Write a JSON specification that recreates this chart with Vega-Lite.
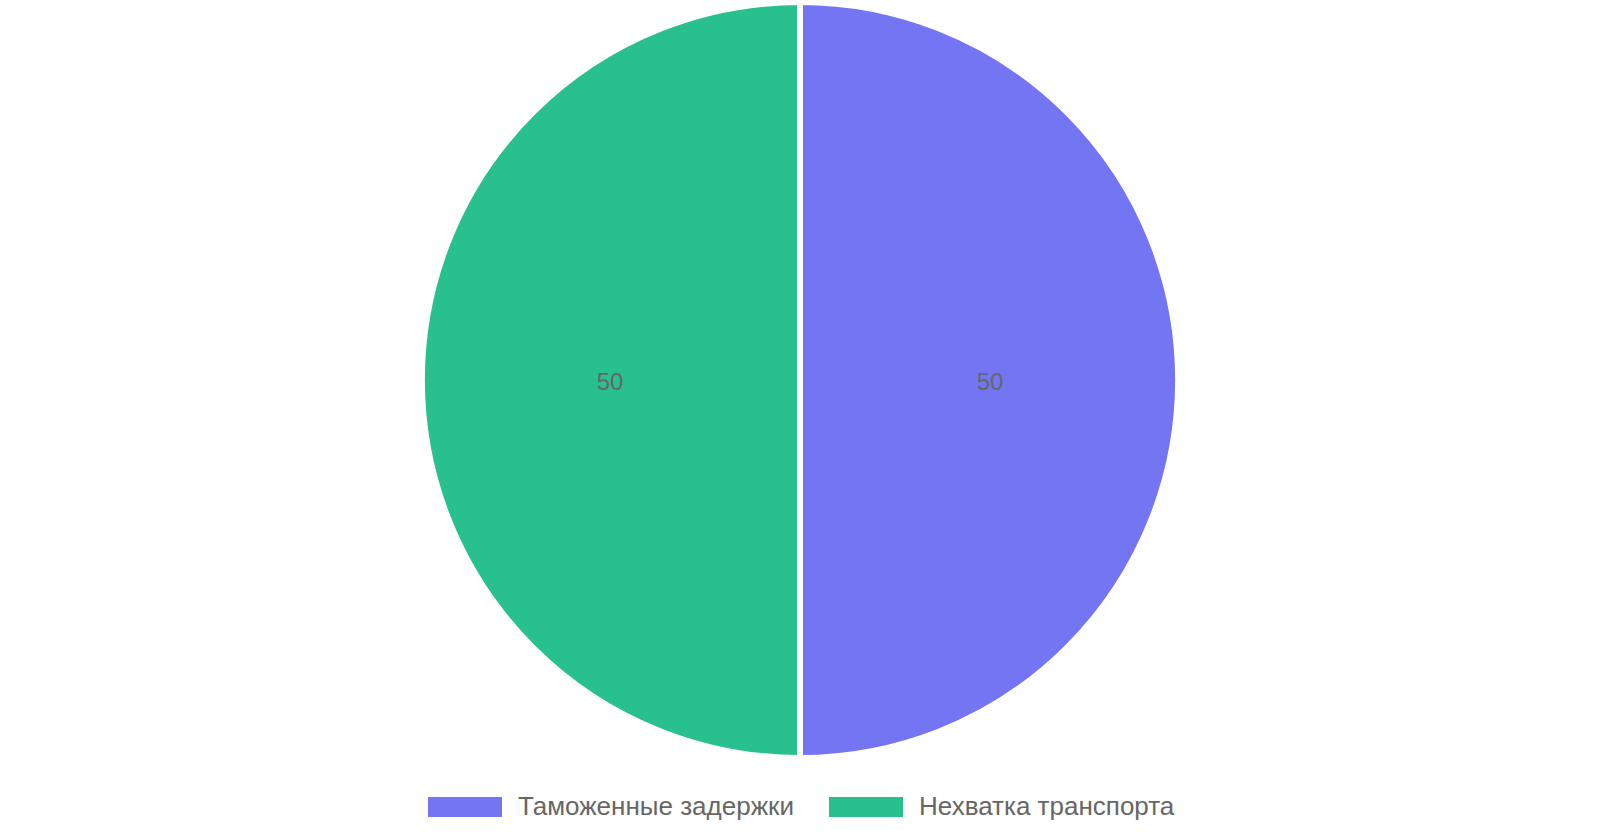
{
  "$schema": "https://vega.github.io/schema/vega-lite/v6.json",
  "width": 1600,
  "height": 760,
  "autosize": {"type": "none"},
  "padding": {"left": 0, "top": 0, "right": 0, "bottom": 80},
  "background": "white",
  "data": {
    "values": [
      {"cause": "Таможенные задержки", "value": 50, "idx": 1},
      {"cause": "Нехватка транспорта", "value": 50, "idx": 2}
    ]
  },
  "encoding": {
    "theta": {"field": "value", "type": "quantitative", "stack": true},
    "order": {"field": "idx", "type": "quantitative"}
  },
  "layer": [
    {
      "mark": {"type": "arc", "outerRadius": 378, "stroke": "white", "strokeWidth": 6},
      "encoding": {
        "color": {
          "field": "cause",
          "type": "nominal",
          "scale": {
            "domain": ["Таможенные задержки", "Нехватка транспорта"],
            "range": ["#7375F2", "#28C08E"]
          },
          "legend": {
            "orient": "none",
            "legendX": 428,
            "legendY": 770,
            "direction": "horizontal",
            "title": null,
            "symbolType": "M-1,-0.27H1V0.27H-1Z",
            "symbolSize": 5476,
            "symbolStrokeWidth": 0,
            "symbolOpacity": 1,
            "labelFontSize": 26,
            "labelFont": "Liberation Sans",
            "labelColor": "#666666",
            "labelOffset": 16,
            "labelLimit": 500,
            "columnPadding": 35,
            "padding": 0
          }
        }
      }
    },
    {
      "mark": {"type": "text", "radius": 190, "dy": 3, "fontSize": 24, "font": "Liberation Sans", "color": "#666666"},
      "encoding": {
        "detail": {"field": "cause", "type": "nominal"},
        "text": {"field": "value", "type": "quantitative"}
      }
    }
  ],
  "config": {"view": {"stroke": null}}
}
